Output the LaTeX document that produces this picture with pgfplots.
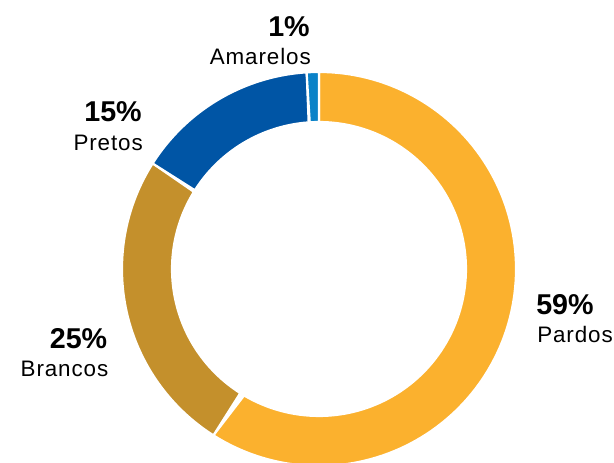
\documentclass[border=0pt]{standalone}
\usepackage{pgfplots}
\pgfplotsset{compat=1.18}
\usepackage{pgfplotstable}
\usepackage{fontspec}
\setmainfont{Liberation Sans}
\newfontfamily\lblfamily[LetterSpace=4]{Liberation Sans}

\definecolor{cPardos}{HTML}{FBB12E}
\definecolor{cBrancos}{HTML}{C4902C}
\definecolor{cPretos}{HTML}{0055A5}
\definecolor{cAmarelos}{HTML}{0A82C8}

% share of the population by colour / race (%)
\pgfplotstableread{
grupo    pct
Pardos   59
Brancos  25
Pretos   15
Amarelos 1
}\populacao

\pgfplotstablegetelem{0}{pct}\of\populacao \let\pA\pgfplotsretval
\pgfplotstablegetelem{1}{pct}\of\populacao \let\pB\pgfplotsretval
\pgfplotstablegetelem{2}{pct}\of\populacao \let\pC\pgfplotsretval
\pgfplotstablegetelem{3}{pct}\of\populacao \let\pD\pgfplotsretval

% slice boundaries, clockwise from twelve o'clock
\pgfmathsetmacro\aA{90}
\pgfmathsetmacro\aB{\aA-3.6*\pA}
\pgfmathsetmacro\aC{\aB-3.6*\pB}
\pgfmathsetmacro\aD{\aC-3.6*\pC}
\pgfmathsetmacro\aE{\aD-3.6*\pD}

% ring geometry
\def\cx{319}\def\cy{194}\def\Ro{197}\def\Ri{147}

% one ring segment: colour, start angle, end angle
\newcommand\ringslice[3]{%
  \addplot[fill=#1, draw=white, line width=1.6pt, domain=0:2, samples=241, variable=\t]
    ({ifthenelse(\t<=1, \cx+\Ro*cos(#2+(#3-#2)*\t), \cx+\Ri*cos(#3-(#3-#2)*(\t-1)))},
     {ifthenelse(\t<=1, \cy+\Ro*sin(#2+(#3-#2)*\t), \cy+\Ri*sin(#3-(#3-#2)*(\t-1)))}) -- cycle;
}

\newcommand\pctfont{\fontsize{21.5}{24}\selectfont\bfseries}
\newcommand\lblfont{\lblfamily\fontsize{16.8}{19}\selectfont}

\begin{document}
\begin{tikzpicture}
\begin{axis}[
  hide axis, scale only axis,
  width=460.5pt, height=347.25pt,
  xmin=0, xmax=614, ymin=0, ymax=463,
  clip=true,
]
\ringslice{cPardos}{\aA}{\aB}
\ringslice{cBrancos}{\aB}{\aC}
\ringslice{cPretos}{\aC}{\aD}
\ringslice{cAmarelos}{\aD}{\aE}

\node[anchor=base east, inner sep=0pt] at (axis cs:310,426) {\pctfont 1\%};
\node[anchor=base east, inner sep=0pt] at (axis cs:311,398.5) {\lblfont Amarelos};
\node[anchor=base east, inner sep=0pt] at (axis cs:142,341.3) {\pctfont 15\%};
\node[anchor=base east, inner sep=0pt] at (axis cs:143,312) {\lblfont Pretos};
\node[anchor=base east, inner sep=0pt] at (axis cs:107.5,114.7) {\pctfont 25\%};
\node[anchor=base east, inner sep=0pt] at (axis cs:108.5,86.3) {\lblfont Brancos};
\node[anchor=base west, inner sep=0pt] at (axis cs:536,148.7) {\pctfont 59\%};
\node[anchor=base west, inner sep=0pt] at (axis cs:537,120.7) {\lblfont Pardos};

\coordinate (sw) at (rel axis cs:0,0);
\coordinate (ne) at (rel axis cs:1,1);
\end{axis}
\pgfresetboundingbox
\useasboundingbox (sw) rectangle (ne);
\end{tikzpicture}
\end{document}
